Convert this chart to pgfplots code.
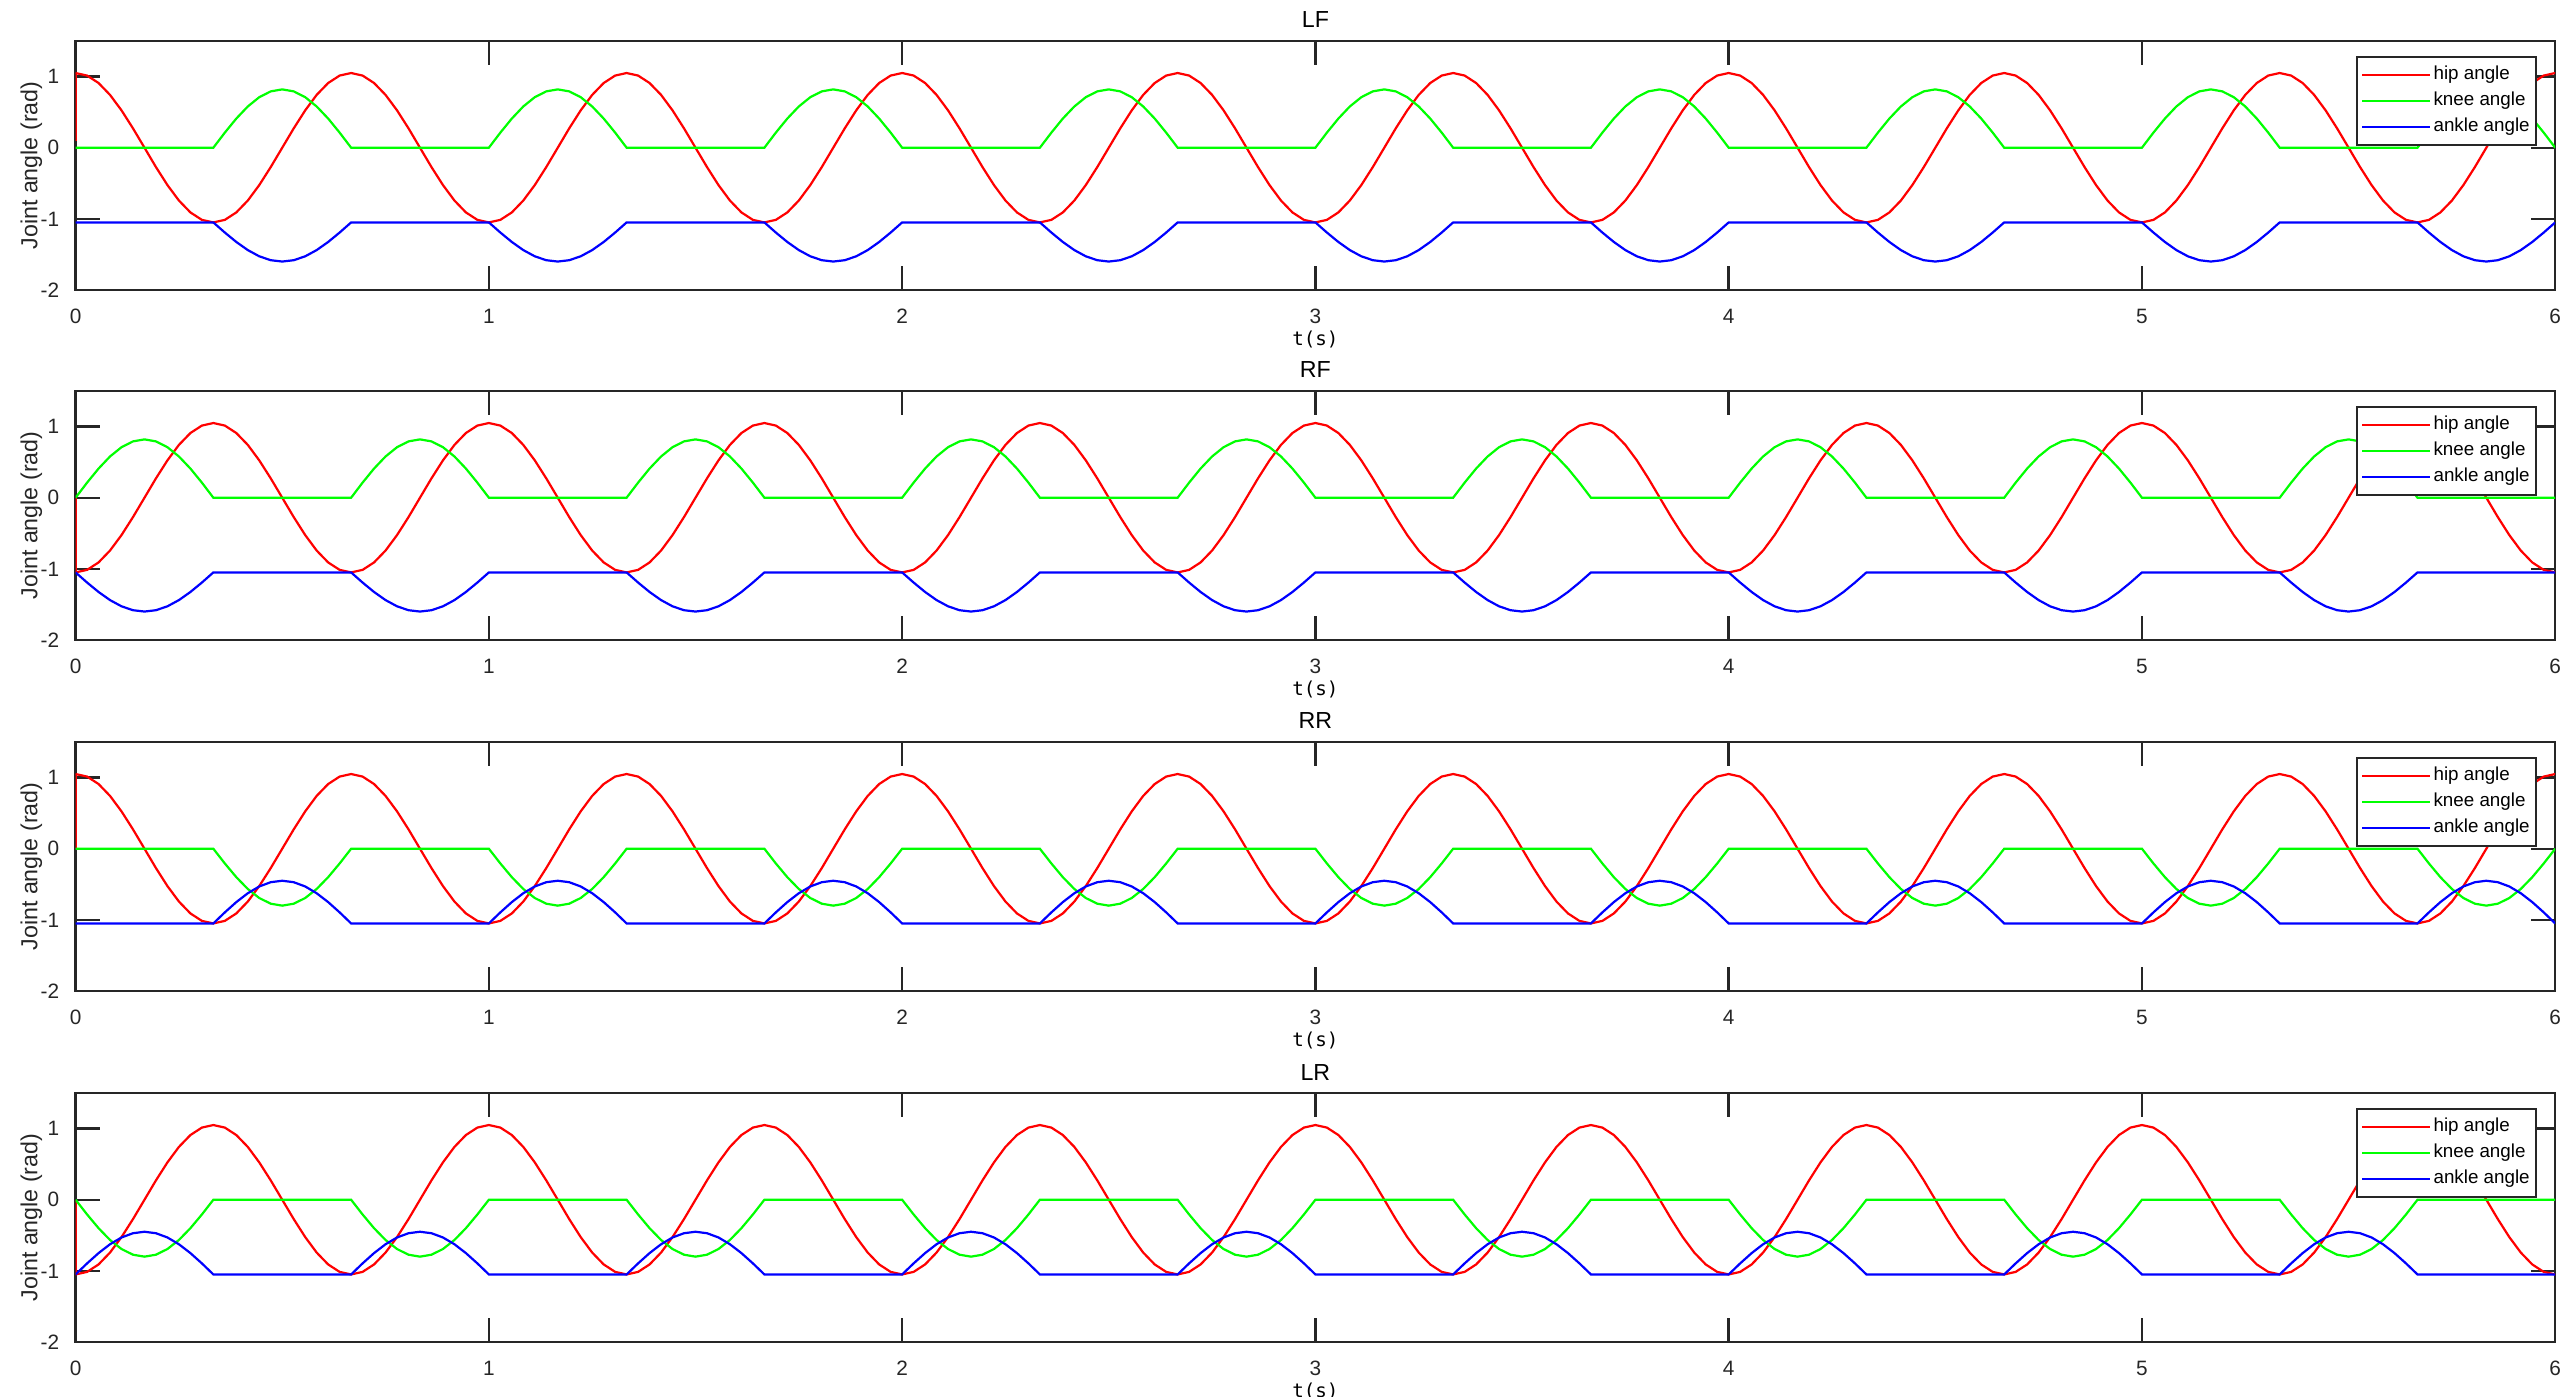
\documentclass[border=0pt]{standalone}
\usepackage{fontspec}
\setmainfont{Liberation Sans}
\newfontfamily\labelfont{DejaVu Sans Mono}
\usepackage{pgfplots}
\usepackage{pgfplotstable}
\pgfplotsset{compat=1.18}

\definecolor{matgray}{RGB}{38,38,38}
\definecolor{hipred}{RGB}{255,0,0}
\definecolor{kneegreen}{RGB}{0,255,0}
\definecolor{ankleblue}{RGB}{0,0,255}

% hip angle, two phases (a: LF/RR, b: RF/LR)
\pgfplotstableread[row sep=\\]{
t a b\\
0 1.05 -1.05\\ 0.0278 1.0142 -1.0142\\ 0.0556 0.9093 -0.9093\\ 0.0833 0.7425 -0.7425\\ 0.1111 0.525 -0.525\\ 0.1389 0.2718 -0.2718\\
0.1667 0 0\\ 0.1944 -0.2718 0.2718\\ 0.2222 -0.525 0.525\\ 0.25 -0.7425 0.7425\\ 0.2778 -0.9093 0.9093\\ 0.3056 -1.0142 1.0142\\
0.3333 -1.05 1.05\\ 0.3611 -1.0142 1.0142\\ 0.3889 -0.9093 0.9093\\ 0.4167 -0.7425 0.7425\\ 0.4444 -0.525 0.525\\ 0.4722 -0.2718 0.2718\\
0.5 0 0\\ 0.5278 0.2718 -0.2718\\ 0.5556 0.525 -0.525\\ 0.5833 0.7425 -0.7425\\ 0.6111 0.9093 -0.9093\\ 0.6389 1.0142 -1.0142\\
0.6667 1.05 -1.05\\ 0.6944 1.0142 -1.0142\\ 0.7222 0.9093 -0.9093\\ 0.75 0.7425 -0.7425\\ 0.7778 0.525 -0.525\\ 0.8056 0.2718 -0.2718\\
0.8333 0 0\\ 0.8611 -0.2718 0.2718\\ 0.8889 -0.525 0.525\\ 0.9167 -0.7425 0.7425\\ 0.9444 -0.9093 0.9093\\ 0.9722 -1.0142 1.0142\\
1 -1.05 1.05\\ 1.0278 -1.0142 1.0142\\ 1.0556 -0.9093 0.9093\\ 1.0833 -0.7425 0.7425\\ 1.1111 -0.525 0.525\\ 1.1389 -0.2718 0.2718\\
1.1667 0 0\\ 1.1944 0.2718 -0.2718\\ 1.2222 0.525 -0.525\\ 1.25 0.7425 -0.7425\\ 1.2778 0.9093 -0.9093\\ 1.3056 1.0142 -1.0142\\
1.3333 1.05 -1.05\\ 1.3611 1.0142 -1.0142\\ 1.3889 0.9093 -0.9093\\ 1.4167 0.7425 -0.7425\\ 1.4444 0.525 -0.525\\ 1.4722 0.2718 -0.2718\\
1.5 0 0\\ 1.5278 -0.2718 0.2718\\ 1.5556 -0.525 0.525\\ 1.5833 -0.7425 0.7425\\ 1.6111 -0.9093 0.9093\\ 1.6389 -1.0142 1.0142\\
1.6667 -1.05 1.05\\ 1.6944 -1.0142 1.0142\\ 1.7222 -0.9093 0.9093\\ 1.75 -0.7425 0.7425\\ 1.7778 -0.525 0.525\\ 1.8056 -0.2718 0.2718\\
1.8333 0 0\\ 1.8611 0.2718 -0.2718\\ 1.8889 0.525 -0.525\\ 1.9167 0.7425 -0.7425\\ 1.9444 0.9093 -0.9093\\ 1.9722 1.0142 -1.0142\\
2 1.05 -1.05\\ 2.0278 1.0142 -1.0142\\ 2.0556 0.9093 -0.9093\\ 2.0833 0.7425 -0.7425\\ 2.1111 0.525 -0.525\\ 2.1389 0.2718 -0.2718\\
2.1667 0 0\\ 2.1944 -0.2718 0.2718\\ 2.2222 -0.525 0.525\\ 2.25 -0.7425 0.7425\\ 2.2778 -0.9093 0.9093\\ 2.3056 -1.0142 1.0142\\
2.3333 -1.05 1.05\\ 2.3611 -1.0142 1.0142\\ 2.3889 -0.9093 0.9093\\ 2.4167 -0.7425 0.7425\\ 2.4444 -0.525 0.525\\ 2.4722 -0.2718 0.2718\\
2.5 0 0\\ 2.5278 0.2718 -0.2718\\ 2.5556 0.525 -0.525\\ 2.5833 0.7425 -0.7425\\ 2.6111 0.9093 -0.9093\\ 2.6389 1.0142 -1.0142\\
2.6667 1.05 -1.05\\ 2.6944 1.0142 -1.0142\\ 2.7222 0.9093 -0.9093\\ 2.75 0.7425 -0.7425\\ 2.7778 0.525 -0.525\\ 2.8056 0.2718 -0.2718\\
2.8333 0 0\\ 2.8611 -0.2718 0.2718\\ 2.8889 -0.525 0.525\\ 2.9167 -0.7425 0.7425\\ 2.9444 -0.9093 0.9093\\ 2.9722 -1.0142 1.0142\\
3 -1.05 1.05\\ 3.0278 -1.0142 1.0142\\ 3.0556 -0.9093 0.9093\\ 3.0833 -0.7425 0.7425\\ 3.1111 -0.525 0.525\\ 3.1389 -0.2718 0.2718\\
3.1667 0 0\\ 3.1944 0.2718 -0.2718\\ 3.2222 0.525 -0.525\\ 3.25 0.7425 -0.7425\\ 3.2778 0.9093 -0.9093\\ 3.3056 1.0142 -1.0142\\
3.3333 1.05 -1.05\\ 3.3611 1.0142 -1.0142\\ 3.3889 0.9093 -0.9093\\ 3.4167 0.7425 -0.7425\\ 3.4444 0.525 -0.525\\ 3.4722 0.2718 -0.2718\\
3.5 0 0\\ 3.5278 -0.2718 0.2718\\ 3.5556 -0.525 0.525\\ 3.5833 -0.7425 0.7425\\ 3.6111 -0.9093 0.9093\\ 3.6389 -1.0142 1.0142\\
3.6667 -1.05 1.05\\ 3.6944 -1.0142 1.0142\\ 3.7222 -0.9093 0.9093\\ 3.75 -0.7425 0.7425\\ 3.7778 -0.525 0.525\\ 3.8056 -0.2718 0.2718\\
3.8333 0 0\\ 3.8611 0.2718 -0.2718\\ 3.8889 0.525 -0.525\\ 3.9167 0.7425 -0.7425\\ 3.9444 0.9093 -0.9093\\ 3.9722 1.0142 -1.0142\\
4 1.05 -1.05\\ 4.0278 1.0142 -1.0142\\ 4.0556 0.9093 -0.9093\\ 4.0833 0.7425 -0.7425\\ 4.1111 0.525 -0.525\\ 4.1389 0.2718 -0.2718\\
4.1667 0 0\\ 4.1944 -0.2718 0.2718\\ 4.2222 -0.525 0.525\\ 4.25 -0.7425 0.7425\\ 4.2778 -0.9093 0.9093\\ 4.3056 -1.0142 1.0142\\
4.3333 -1.05 1.05\\ 4.3611 -1.0142 1.0142\\ 4.3889 -0.9093 0.9093\\ 4.4167 -0.7425 0.7425\\ 4.4444 -0.525 0.525\\ 4.4722 -0.2718 0.2718\\
4.5 0 0\\ 4.5278 0.2718 -0.2718\\ 4.5556 0.525 -0.525\\ 4.5833 0.7425 -0.7425\\ 4.6111 0.9093 -0.9093\\ 4.6389 1.0142 -1.0142\\
4.6667 1.05 -1.05\\ 4.6944 1.0142 -1.0142\\ 4.7222 0.9093 -0.9093\\ 4.75 0.7425 -0.7425\\ 4.7778 0.525 -0.525\\ 4.8056 0.2718 -0.2718\\
4.8333 0 0\\ 4.8611 -0.2718 0.2718\\ 4.8889 -0.525 0.525\\ 4.9167 -0.7425 0.7425\\ 4.9444 -0.9093 0.9093\\ 4.9722 -1.0142 1.0142\\
5 -1.05 1.05\\ 5.0278 -1.0142 1.0142\\ 5.0556 -0.9093 0.9093\\ 5.0833 -0.7425 0.7425\\ 5.1111 -0.525 0.525\\ 5.1389 -0.2718 0.2718\\
5.1667 0 0\\ 5.1944 0.2718 -0.2718\\ 5.2222 0.525 -0.525\\ 5.25 0.7425 -0.7425\\ 5.2778 0.9093 -0.9093\\ 5.3056 1.0142 -1.0142\\
5.3333 1.05 -1.05\\ 5.3611 1.0142 -1.0142\\ 5.3889 0.9093 -0.9093\\ 5.4167 0.7425 -0.7425\\ 5.4444 0.525 -0.525\\ 5.4722 0.2718 -0.2718\\
5.5 0 0\\ 5.5278 -0.2718 0.2718\\ 5.5556 -0.525 0.525\\ 5.5833 -0.7425 0.7425\\ 5.6111 -0.9093 0.9093\\ 5.6389 -1.0142 1.0142\\
5.6667 -1.05 1.05\\ 5.6944 -1.0142 1.0142\\ 5.7222 -0.9093 0.9093\\ 5.75 -0.7425 0.7425\\ 5.7778 -0.525 0.525\\ 5.8056 -0.2718 0.2718\\
5.8333 0 0\\ 5.8611 0.2718 -0.2718\\ 5.8889 0.525 -0.525\\ 5.9167 0.7425 -0.7425\\ 5.9444 0.9093 -0.9093\\ 5.9722 1.0142 -1.0142\\
6 1.05 -1.05\\
}\hiptable

% knee / ankle for LF and RR (swing in the second half of each step)
\pgfplotstableread[row sep=\\]{
t lfk lfa rrk rra\\
0 0 -1.05 0 -1.05\\
0.3333 0 -1.05 0 -1.05\\ 0.3611 0.2122 -1.1923 -0.2071 -0.8947\\ 0.3889 0.41 -1.325 -0.4 -0.75\\ 0.4167 0.5798 -1.4389 -0.5657 -0.6257\\ 0.4444 0.7101 -1.5263 -0.6928 -0.5304\\ 0.4722 0.792 -1.5812 -0.7727 -0.4705\\ 0.5 0.82 -1.6 -0.8 -0.45\\ 0.5278 0.792 -1.5812 -0.7727 -0.4705\\ 0.5556 0.7101 -1.5263 -0.6928 -0.5304\\ 0.5833 0.5798 -1.4389 -0.5657 -0.6257\\ 0.6111 0.41 -1.325 -0.4 -0.75\\ 0.6389 0.2122 -1.1923 -0.2071 -0.8947\\ 0.6667 0 -1.05 0 -1.05\\
1 0 -1.05 0 -1.05\\ 1.0278 0.2122 -1.1923 -0.2071 -0.8947\\ 1.0556 0.41 -1.325 -0.4 -0.75\\ 1.0833 0.5798 -1.4389 -0.5657 -0.6257\\ 1.1111 0.7101 -1.5263 -0.6928 -0.5304\\ 1.1389 0.792 -1.5812 -0.7727 -0.4705\\ 1.1667 0.82 -1.6 -0.8 -0.45\\ 1.1944 0.792 -1.5812 -0.7727 -0.4705\\ 1.2222 0.7101 -1.5263 -0.6928 -0.5304\\ 1.25 0.5798 -1.4389 -0.5657 -0.6257\\ 1.2778 0.41 -1.325 -0.4 -0.75\\ 1.3056 0.2122 -1.1923 -0.2071 -0.8947\\ 1.3333 0 -1.05 0 -1.05\\
1.6667 0 -1.05 0 -1.05\\ 1.6944 0.2122 -1.1923 -0.2071 -0.8947\\ 1.7222 0.41 -1.325 -0.4 -0.75\\ 1.75 0.5798 -1.4389 -0.5657 -0.6257\\ 1.7778 0.7101 -1.5263 -0.6928 -0.5304\\ 1.8056 0.792 -1.5812 -0.7727 -0.4705\\ 1.8333 0.82 -1.6 -0.8 -0.45\\ 1.8611 0.792 -1.5812 -0.7727 -0.4705\\ 1.8889 0.7101 -1.5263 -0.6928 -0.5304\\ 1.9167 0.5798 -1.4389 -0.5657 -0.6257\\ 1.9444 0.41 -1.325 -0.4 -0.75\\ 1.9722 0.2122 -1.1923 -0.2071 -0.8947\\ 2 0 -1.05 0 -1.05\\
2.3333 0 -1.05 0 -1.05\\ 2.3611 0.2122 -1.1923 -0.2071 -0.8947\\ 2.3889 0.41 -1.325 -0.4 -0.75\\ 2.4167 0.5798 -1.4389 -0.5657 -0.6257\\ 2.4444 0.7101 -1.5263 -0.6928 -0.5304\\ 2.4722 0.792 -1.5812 -0.7727 -0.4705\\ 2.5 0.82 -1.6 -0.8 -0.45\\ 2.5278 0.792 -1.5812 -0.7727 -0.4705\\ 2.5556 0.7101 -1.5263 -0.6928 -0.5304\\ 2.5833 0.5798 -1.4389 -0.5657 -0.6257\\ 2.6111 0.41 -1.325 -0.4 -0.75\\ 2.6389 0.2122 -1.1923 -0.2071 -0.8947\\ 2.6667 0 -1.05 0 -1.05\\
3 0 -1.05 0 -1.05\\ 3.0278 0.2122 -1.1923 -0.2071 -0.8947\\ 3.0556 0.41 -1.325 -0.4 -0.75\\ 3.0833 0.5798 -1.4389 -0.5657 -0.6257\\ 3.1111 0.7101 -1.5263 -0.6928 -0.5304\\ 3.1389 0.792 -1.5812 -0.7727 -0.4705\\ 3.1667 0.82 -1.6 -0.8 -0.45\\ 3.1944 0.792 -1.5812 -0.7727 -0.4705\\ 3.2222 0.7101 -1.5263 -0.6928 -0.5304\\ 3.25 0.5798 -1.4389 -0.5657 -0.6257\\ 3.2778 0.41 -1.325 -0.4 -0.75\\ 3.3056 0.2122 -1.1923 -0.2071 -0.8947\\ 3.3333 0 -1.05 0 -1.05\\
3.6667 0 -1.05 0 -1.05\\ 3.6944 0.2122 -1.1923 -0.2071 -0.8947\\ 3.7222 0.41 -1.325 -0.4 -0.75\\ 3.75 0.5798 -1.4389 -0.5657 -0.6257\\ 3.7778 0.7101 -1.5263 -0.6928 -0.5304\\ 3.8056 0.792 -1.5812 -0.7727 -0.4705\\ 3.8333 0.82 -1.6 -0.8 -0.45\\ 3.8611 0.792 -1.5812 -0.7727 -0.4705\\ 3.8889 0.7101 -1.5263 -0.6928 -0.5304\\ 3.9167 0.5798 -1.4389 -0.5657 -0.6257\\ 3.9444 0.41 -1.325 -0.4 -0.75\\ 3.9722 0.2122 -1.1923 -0.2071 -0.8947\\ 4 0 -1.05 0 -1.05\\
4.3333 0 -1.05 0 -1.05\\ 4.3611 0.2122 -1.1923 -0.2071 -0.8947\\ 4.3889 0.41 -1.325 -0.4 -0.75\\ 4.4167 0.5798 -1.4389 -0.5657 -0.6257\\ 4.4444 0.7101 -1.5263 -0.6928 -0.5304\\ 4.4722 0.792 -1.5812 -0.7727 -0.4705\\ 4.5 0.82 -1.6 -0.8 -0.45\\ 4.5278 0.792 -1.5812 -0.7727 -0.4705\\ 4.5556 0.7101 -1.5263 -0.6928 -0.5304\\ 4.5833 0.5798 -1.4389 -0.5657 -0.6257\\ 4.6111 0.41 -1.325 -0.4 -0.75\\ 4.6389 0.2122 -1.1923 -0.2071 -0.8947\\ 4.6667 0 -1.05 0 -1.05\\
5 0 -1.05 0 -1.05\\ 5.0278 0.2122 -1.1923 -0.2071 -0.8947\\ 5.0556 0.41 -1.325 -0.4 -0.75\\ 5.0833 0.5798 -1.4389 -0.5657 -0.6257\\ 5.1111 0.7101 -1.5263 -0.6928 -0.5304\\ 5.1389 0.792 -1.5812 -0.7727 -0.4705\\ 5.1667 0.82 -1.6 -0.8 -0.45\\ 5.1944 0.792 -1.5812 -0.7727 -0.4705\\ 5.2222 0.7101 -1.5263 -0.6928 -0.5304\\ 5.25 0.5798 -1.4389 -0.5657 -0.6257\\ 5.2778 0.41 -1.325 -0.4 -0.75\\ 5.3056 0.2122 -1.1923 -0.2071 -0.8947\\ 5.3333 0 -1.05 0 -1.05\\
5.6667 0 -1.05 0 -1.05\\ 5.6944 0.2122 -1.1923 -0.2071 -0.8947\\ 5.7222 0.41 -1.325 -0.4 -0.75\\ 5.75 0.5798 -1.4389 -0.5657 -0.6257\\ 5.7778 0.7101 -1.5263 -0.6928 -0.5304\\ 5.8056 0.792 -1.5812 -0.7727 -0.4705\\ 5.8333 0.82 -1.6 -0.8 -0.45\\ 5.8611 0.792 -1.5812 -0.7727 -0.4705\\ 5.8889 0.7101 -1.5263 -0.6928 -0.5304\\ 5.9167 0.5798 -1.4389 -0.5657 -0.6257\\ 5.9444 0.41 -1.325 -0.4 -0.75\\ 5.9722 0.2122 -1.1923 -0.2071 -0.8947\\ 6 0 -1.05 0 -1.05\\
}\phaseA

% knee / ankle for RF and LR (swing in the first half of each step)
\pgfplotstableread[row sep=\\]{
t rfk rfa lrk lra\\
0 0 -1.05 0 -1.05\\ 0.0278 0.2122 -1.1923 -0.2071 -0.8947\\ 0.0556 0.41 -1.325 -0.4 -0.75\\ 0.0833 0.5798 -1.4389 -0.5657 -0.6257\\ 0.1111 0.7101 -1.5263 -0.6928 -0.5304\\ 0.1389 0.792 -1.5812 -0.7727 -0.4705\\ 0.1667 0.82 -1.6 -0.8 -0.45\\ 0.1944 0.792 -1.5812 -0.7727 -0.4705\\ 0.2222 0.7101 -1.5263 -0.6928 -0.5304\\ 0.25 0.5798 -1.4389 -0.5657 -0.6257\\ 0.2778 0.41 -1.325 -0.4 -0.75\\ 0.3056 0.2122 -1.1923 -0.2071 -0.8947\\ 0.3333 0 -1.05 0 -1.05\\
0.6667 0 -1.05 0 -1.05\\ 0.6944 0.2122 -1.1923 -0.2071 -0.8947\\ 0.7222 0.41 -1.325 -0.4 -0.75\\ 0.75 0.5798 -1.4389 -0.5657 -0.6257\\ 0.7778 0.7101 -1.5263 -0.6928 -0.5304\\ 0.8056 0.792 -1.5812 -0.7727 -0.4705\\ 0.8333 0.82 -1.6 -0.8 -0.45\\ 0.8611 0.792 -1.5812 -0.7727 -0.4705\\ 0.8889 0.7101 -1.5263 -0.6928 -0.5304\\ 0.9167 0.5798 -1.4389 -0.5657 -0.6257\\ 0.9444 0.41 -1.325 -0.4 -0.75\\ 0.9722 0.2122 -1.1923 -0.2071 -0.8947\\ 1 0 -1.05 0 -1.05\\
1.3333 0 -1.05 0 -1.05\\ 1.3611 0.2122 -1.1923 -0.2071 -0.8947\\ 1.3889 0.41 -1.325 -0.4 -0.75\\ 1.4167 0.5798 -1.4389 -0.5657 -0.6257\\ 1.4444 0.7101 -1.5263 -0.6928 -0.5304\\ 1.4722 0.792 -1.5812 -0.7727 -0.4705\\ 1.5 0.82 -1.6 -0.8 -0.45\\ 1.5278 0.792 -1.5812 -0.7727 -0.4705\\ 1.5556 0.7101 -1.5263 -0.6928 -0.5304\\ 1.5833 0.5798 -1.4389 -0.5657 -0.6257\\ 1.6111 0.41 -1.325 -0.4 -0.75\\ 1.6389 0.2122 -1.1923 -0.2071 -0.8947\\ 1.6667 0 -1.05 0 -1.05\\
2 0 -1.05 0 -1.05\\ 2.0278 0.2122 -1.1923 -0.2071 -0.8947\\ 2.0556 0.41 -1.325 -0.4 -0.75\\ 2.0833 0.5798 -1.4389 -0.5657 -0.6257\\ 2.1111 0.7101 -1.5263 -0.6928 -0.5304\\ 2.1389 0.792 -1.5812 -0.7727 -0.4705\\ 2.1667 0.82 -1.6 -0.8 -0.45\\ 2.1944 0.792 -1.5812 -0.7727 -0.4705\\ 2.2222 0.7101 -1.5263 -0.6928 -0.5304\\ 2.25 0.5798 -1.4389 -0.5657 -0.6257\\ 2.2778 0.41 -1.325 -0.4 -0.75\\ 2.3056 0.2122 -1.1923 -0.2071 -0.8947\\ 2.3333 0 -1.05 0 -1.05\\
2.6667 0 -1.05 0 -1.05\\ 2.6944 0.2122 -1.1923 -0.2071 -0.8947\\ 2.7222 0.41 -1.325 -0.4 -0.75\\ 2.75 0.5798 -1.4389 -0.5657 -0.6257\\ 2.7778 0.7101 -1.5263 -0.6928 -0.5304\\ 2.8056 0.792 -1.5812 -0.7727 -0.4705\\ 2.8333 0.82 -1.6 -0.8 -0.45\\ 2.8611 0.792 -1.5812 -0.7727 -0.4705\\ 2.8889 0.7101 -1.5263 -0.6928 -0.5304\\ 2.9167 0.5798 -1.4389 -0.5657 -0.6257\\ 2.9444 0.41 -1.325 -0.4 -0.75\\ 2.9722 0.2122 -1.1923 -0.2071 -0.8947\\ 3 0 -1.05 0 -1.05\\
3.3333 0 -1.05 0 -1.05\\ 3.3611 0.2122 -1.1923 -0.2071 -0.8947\\ 3.3889 0.41 -1.325 -0.4 -0.75\\ 3.4167 0.5798 -1.4389 -0.5657 -0.6257\\ 3.4444 0.7101 -1.5263 -0.6928 -0.5304\\ 3.4722 0.792 -1.5812 -0.7727 -0.4705\\ 3.5 0.82 -1.6 -0.8 -0.45\\ 3.5278 0.792 -1.5812 -0.7727 -0.4705\\ 3.5556 0.7101 -1.5263 -0.6928 -0.5304\\ 3.5833 0.5798 -1.4389 -0.5657 -0.6257\\ 3.6111 0.41 -1.325 -0.4 -0.75\\ 3.6389 0.2122 -1.1923 -0.2071 -0.8947\\ 3.6667 0 -1.05 0 -1.05\\
4 0 -1.05 0 -1.05\\ 4.0278 0.2122 -1.1923 -0.2071 -0.8947\\ 4.0556 0.41 -1.325 -0.4 -0.75\\ 4.0833 0.5798 -1.4389 -0.5657 -0.6257\\ 4.1111 0.7101 -1.5263 -0.6928 -0.5304\\ 4.1389 0.792 -1.5812 -0.7727 -0.4705\\ 4.1667 0.82 -1.6 -0.8 -0.45\\ 4.1944 0.792 -1.5812 -0.7727 -0.4705\\ 4.2222 0.7101 -1.5263 -0.6928 -0.5304\\ 4.25 0.5798 -1.4389 -0.5657 -0.6257\\ 4.2778 0.41 -1.325 -0.4 -0.75\\ 4.3056 0.2122 -1.1923 -0.2071 -0.8947\\ 4.3333 0 -1.05 0 -1.05\\
4.6667 0 -1.05 0 -1.05\\ 4.6944 0.2122 -1.1923 -0.2071 -0.8947\\ 4.7222 0.41 -1.325 -0.4 -0.75\\ 4.75 0.5798 -1.4389 -0.5657 -0.6257\\ 4.7778 0.7101 -1.5263 -0.6928 -0.5304\\ 4.8056 0.792 -1.5812 -0.7727 -0.4705\\ 4.8333 0.82 -1.6 -0.8 -0.45\\ 4.8611 0.792 -1.5812 -0.7727 -0.4705\\ 4.8889 0.7101 -1.5263 -0.6928 -0.5304\\ 4.9167 0.5798 -1.4389 -0.5657 -0.6257\\ 4.9444 0.41 -1.325 -0.4 -0.75\\ 4.9722 0.2122 -1.1923 -0.2071 -0.8947\\ 5 0 -1.05 0 -1.05\\
5.3333 0 -1.05 0 -1.05\\ 5.3611 0.2122 -1.1923 -0.2071 -0.8947\\ 5.3889 0.41 -1.325 -0.4 -0.75\\ 5.4167 0.5798 -1.4389 -0.5657 -0.6257\\ 5.4444 0.7101 -1.5263 -0.6928 -0.5304\\ 5.4722 0.792 -1.5812 -0.7727 -0.4705\\ 5.5 0.82 -1.6 -0.8 -0.45\\ 5.5278 0.792 -1.5812 -0.7727 -0.4705\\ 5.5556 0.7101 -1.5263 -0.6928 -0.5304\\ 5.5833 0.5798 -1.4389 -0.5657 -0.6257\\ 5.6111 0.41 -1.325 -0.4 -0.75\\ 5.6389 0.2122 -1.1923 -0.2071 -0.8947\\ 5.6667 0 -1.05 0 -1.05\\
6 0 -1.05 0 -1.05\\
}\phaseB

\pgfplotsset{
  jointaxis/.style={
    scale only axis, width=619.9pt, height=62.25pt,
    anchor=north west,
    xmin=0, xmax=6, ymin=-2, ymax=1.5,
    xtick={0,1,2,3,4,5,6}, ytick={-2,-1,0,1},
    tick align=inside, tick pos=both,
    major tick length=6pt,
    axis line style={matgray, line width=0.6pt},
    every tick/.style={matgray, line width=0.6pt},
    tick label style={font=\fontsize{5.2}{6}\selectfont, text=matgray},
    /pgf/number format/assume math mode=true,
    xticklabel style={yshift=-1.2pt},
    yticklabel style={xshift=-0.6pt},
    xlabel={\labelfont t(s)},
    xlabel style={at={(axis description cs:0.5,-0.2)}, anchor=center, font=\fontsize{4.8}{6}\selectfont, text=black},
    ylabel={Joint angle (rad)},
    ylabel style={at={(axis description cs:-0.0178,0.5)}, anchor=center, font=\fontsize{5.8}{7}\selectfont, text=matgray},
    title style={at={(axis description cs:0.5,1)}, anchor=center, yshift=-0.75pt, font=\fontsize{5.8}{7}\selectfont, text=black},
    legend style={at={(axis description cs:0.9927,0.94)}, anchor=north east,
      draw=matgray, line width=0.5pt, fill=white,
      font=\fontsize{4.7}{5.5}\selectfont,
      inner xsep=1pt, inner ysep=1.2pt, row sep=0pt,
      nodes={inner ysep=0.9pt, inner xsep=0.6pt, text height=3.6pt, text depth=1.1pt},
      cells={anchor=west}},
    legend image code/.code={\draw[#1, line width=0.5pt] (0pt,0pt) -- (17pt,0pt);},
    every axis plot/.append style={line width=0.55pt},
  }
}

\begin{document}
\begin{tikzpicture}
\useasboundingbox (0,0) rectangle (643.75pt,349pt);

\begin{axis}[jointaxis, at={(18.9pt,338.75pt)}, title={LF}]
\addplot[hipred, forget plot] coordinates {(0,0.1) (0,1.05)};
\addplot[hipred] table[x=t, y=a] {\hiptable};
\addlegendentry{hip angle}
\addplot[kneegreen] table[x=t, y=lfk] {\phaseA};
\addlegendentry{knee angle}
\addplot[ankleblue] table[x=t, y=lfa] {\phaseA};
\addlegendentry{ankle angle}
\end{axis}

\begin{axis}[jointaxis, at={(18.9pt,251.25pt)}, title={RF}]
\addplot[hipred, forget plot] coordinates {(0,0) (0,-1.05)};
\addplot[hipred] table[x=t, y=b] {\hiptable};
\addlegendentry{hip angle}
\addplot[kneegreen] table[x=t, y=rfk] {\phaseB};
\addlegendentry{knee angle}
\addplot[ankleblue] table[x=t, y=rfa] {\phaseB};
\addlegendentry{ankle angle}
\end{axis}

\begin{axis}[jointaxis, at={(18.9pt,163.5pt)}, title={RR}]
\addplot[hipred, forget plot] coordinates {(0,0) (0,1.05)};
\addplot[hipred] table[x=t, y=a] {\hiptable};
\addlegendentry{hip angle}
\addplot[kneegreen] table[x=t, y=rrk] {\phaseA};
\addlegendentry{knee angle}
\addplot[ankleblue] table[x=t, y=rra] {\phaseA};
\addlegendentry{ankle angle}
\end{axis}

\begin{axis}[jointaxis, at={(18.9pt,75.75pt)}, title={LR}]
\addplot[hipred, forget plot] coordinates {(0,0) (0,-1.05)};
\addplot[hipred] table[x=t, y=b] {\hiptable};
\addlegendentry{hip angle}
\addplot[kneegreen] table[x=t, y=lrk] {\phaseB};
\addlegendentry{knee angle}
\addplot[ankleblue] table[x=t, y=lra] {\phaseB};
\addlegendentry{ankle angle}
\end{axis}
\end{tikzpicture}
\end{document}
